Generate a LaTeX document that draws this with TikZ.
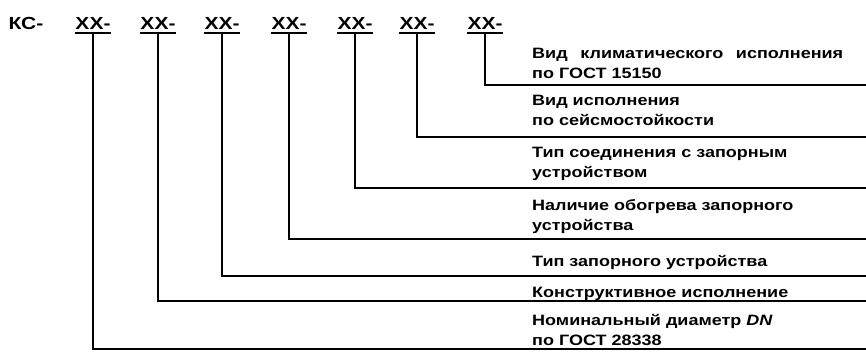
\documentclass[tikz,border=0pt]{standalone}
\usepackage{fontspec}
\setmainfont[FakeStretch=1.2]{Liberation Sans}
\begin{document}
\begin{tikzpicture}[x=1pt,y=-1pt,
  code/.style={anchor=base,inner sep=0pt,text depth=0pt,font=\bfseries\fontsize{17.5}{17.5}\selectfont},
  lbl/.style={anchor=base west,inner sep=0pt,align=left,font=\bfseries\fontsize{15}{20}\selectfont},
  uline/.style={line width=2.4pt},
  conn/.style={line width=1.6pt}]
\useasboundingbox (0,0) rectangle (866,351);
% code designation
\node[code] (ks) at (26,29) {КС-};
\foreach \i/\x in {1/93,2/158,3/222,4/289,5/355,6/417,7/485}{
  \node[code] (x\i) at (\x,29) {ХХ-};
  \draw[uline] ([yshift=-3.5pt]x\i.south west) -- ([yshift=-3.5pt]x\i.south east);
}
% right-edge end points of the leader lines
\foreach \i/\y in {1/349,2/301,3/276,4/239,5/188,6/137,7/85}{
  \coordinate (e\i) at (866,\y);
}
% labels (anchored at the baseline of their last line)
\node[lbl] (l7) at (532,78) {\makebox[311pt][s]{Вид климатического исполнения}\\по ГОСТ 15150};
\node[lbl] (l6) at (532,125) {Вид исполнения\\по сейсмостойкости};
\node[lbl] (l5) at (532,177) {Тип соединения с запорным\\устройством};
\node[lbl] (l4) at (532,230) {Наличие обогрева запорного\\устройства};
\node[lbl] (l3) at (532,266) {Тип запорного устройства};
\node[lbl] (l2) at (532,297) {Конструктивное исполнение};
\node[lbl] (l1) at (532,345) {Номинальный диаметр \textit{DN}\\по ГОСТ 28338};
% leaders
\foreach \i in {1,...,7}{
  \draw[conn] ([yshift=-3.5pt]x\i.south) |- (e\i);
}
\end{tikzpicture}
\end{document}
